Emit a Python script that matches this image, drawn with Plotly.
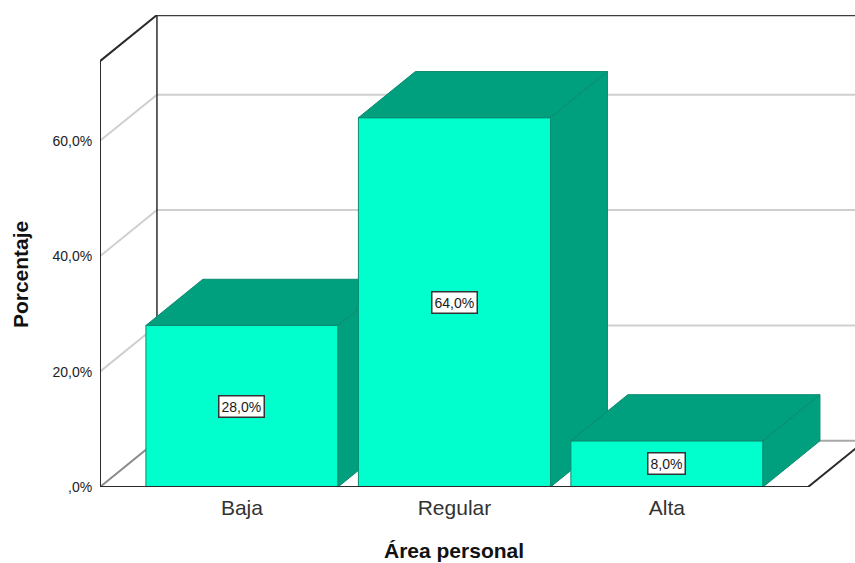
import plotly.graph_objects as go

categories = ["Baja", "Regular", "Alta"]
percentages = [28.0, 64.0, 8.0]
y_ticks = [0, 20, 40, 60]
y_tick_labels = [",0%", "20,0%", "40,0%", "60,0%"]
x_title = "Área personal"
y_title = "Porcentaje"

FRONT = "#00FFCC"
SHADE = "#00A07E"
EDGE = "#0B8A70"
GRID = "#CFCFCF"
AXIS = "#2B2B2B"
FONT = "Liberation Sans"

# Oblique projection: how far the back plane is shifted from the front plane.
DEPTH_X = 0.268
DEPTH_Y = 8.0
BAR_WIDTH = 0.904

X_MIN, X_MAX = -0.668, 2.885
Y_MAX = 81.8
WALL_TOP = 73.8
FLOOR_END = 2.664


def label(v):
    return f"{v:.1f}".replace(".", ",") + "%"


def line(xs, ys, color, width):
    return go.Scatter(x=xs, y=ys, mode="lines", line=dict(color=color, width=width),
                      cliponaxis=False, hoverinfo="skip", showlegend=False)


fig = go.Figure()

# Grid lines run along the side wall and then across the back wall.
for t in y_ticks[1:]:
    fig.add_trace(line([X_MIN, X_MIN + DEPTH_X, X_MAX], [t, t + DEPTH_Y, t + DEPTH_Y], GRID, 2))

# Floor and walls of the box.
fig.add_trace(line([X_MIN + DEPTH_X, X_MAX], [DEPTH_Y, DEPTH_Y], "#A8A8A8", 2))
fig.add_trace(line([X_MIN, X_MIN + DEPTH_X], [0, DEPTH_Y], "#8A8A8A", 2))
fig.add_trace(line([X_MIN + DEPTH_X, X_MIN + DEPTH_X], [DEPTH_Y, WALL_TOP + DEPTH_Y], AXIS, 1.5))
fig.add_trace(line([X_MIN + DEPTH_X, X_MAX], [WALL_TOP + DEPTH_Y] * 2, "#3C3C3C", 2.5))
fig.add_trace(line([X_MIN, X_MIN, X_MIN + DEPTH_X], [0, WALL_TOP, WALL_TOP + DEPTH_Y], AXIS, 2))
fig.add_trace(line([FLOOR_END, FLOOR_END + DEPTH_X], [0, DEPTH_Y], AXIS, 2))

# Each bar sits on its own overlaid axis pair so that it paints over its left neighbour.
for i, (name, v) in enumerate(zip(categories, percentages)):
    xa, ya = f"x{i + 2}", f"y{i + 2}"
    left, right = i - BAR_WIDTH / 2, i + BAR_WIDTH / 2
    fig.add_trace(go.Bar(x=[i], y=[v], width=BAR_WIDTH, name=name, xaxis=xa, yaxis=ya,
                         marker=dict(color=FRONT, line=dict(color=EDGE, width=1)),
                         showlegend=False))
    top_x = [left, right, right + DEPTH_X, left + DEPTH_X, left]
    top_y = [v, v, v + DEPTH_Y, v + DEPTH_Y, v]
    side_x = [right, right + DEPTH_X, right + DEPTH_X, right, right]
    side_y = [0, DEPTH_Y, v + DEPTH_Y, v, 0]
    for xs, ys in ((top_x, top_y), (side_x, side_y)):
        fig.add_trace(go.Scatter(x=xs, y=ys, xaxis=xa, yaxis=ya, mode="lines", fill="toself",
                                 fillcolor=SHADE, line=dict(color=EDGE, width=1),
                                 hoverinfo="skip", showlegend=False))
    fig.layout[f"xaxis{i + 2}"] = dict(range=[X_MIN, X_MAX], overlaying="x", anchor=ya, visible=False)
    fig.layout[f"yaxis{i + 2}"] = dict(range=[0, Y_MAX], overlaying="y", anchor=xa, visible=False)

# Front floor edge, above the bar bases.
fig.add_shape(type="line", x0=X_MIN, x1=FLOOR_END, y0=0, y1=0, xref="x", yref="y",
              line=dict(color=AXIS, width=2), layer="above")

for i, v in enumerate(percentages):
    fig.add_annotation(x=i, y=v / 2, xref="x", yref="y", text=label(v), showarrow=False,
                       font=dict(family=FONT, size=14, color="#1A1A1A"),
                       bgcolor="white", bordercolor="#333333", borderwidth=1.5, borderpad=2)

# Axis titles are centred on the front plane rather than on the whole plot area.
fig.add_annotation(text=f"<b>{x_title}</b>", x=0.469, y=-0.1335, xref="paper", yref="paper",
                   xanchor="center", yanchor="middle", showarrow=False,
                   font=dict(family=FONT, size=21, color="#111111"))
fig.add_annotation(text=f"<b>{y_title}</b>", x=-0.106, y=0.451, xref="paper", yref="paper",
                   xanchor="center", yanchor="middle", textangle=-90, showarrow=False,
                   font=dict(family=FONT, size=21, color="#111111"))

fig.update_layout(
    width=855, height=563,
    margin=dict(l=100, r=0, t=15, b=76, pad=0),
    plot_bgcolor="white", paper_bgcolor="white",
    showlegend=False,
    font=dict(family=FONT, color="#222222"),
    xaxis=dict(range=[X_MIN, X_MAX], tickmode="array", tickvals=list(range(len(categories))),
               ticktext=categories, tickfont=dict(size=21, color="#333333"), showgrid=False,
               zeroline=False, showline=False, ticks="outside", ticklen=2, tickcolor="rgba(0,0,0,0)"),
    yaxis=dict(range=[0, Y_MAX], tickmode="array", tickvals=y_ticks, ticktext=y_tick_labels,
               tickfont=dict(size=14, color="#222222"), showgrid=False, zeroline=False, showline=False,
               ticks="outside", ticklen=4, tickcolor="rgba(0,0,0,0)"),
)

fig.write_html("out.html")
